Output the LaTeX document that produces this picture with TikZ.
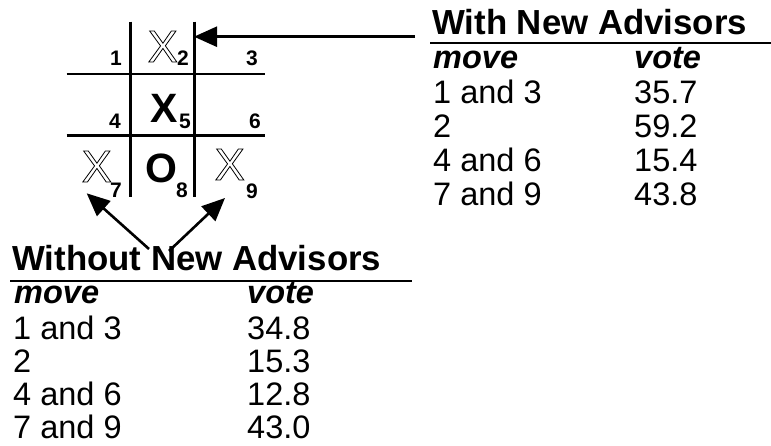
\documentclass[tikz,border=0pt]{standalone}
\usepackage{fontspec}
\setmainfont{Liberation Sans}
\usetikzlibrary{arrows.meta}
\newcommand{\hollow}[1]{\special{pdf:literal direct 1 Tr 0.8 w}#1\special{pdf:literal direct 0 Tr}}

\begin{document}
\begin{tikzpicture}[x=1pt,y=-1pt,>={Triangle[length=23pt,width=20pt]},
  num/.style={anchor=base east,inner sep=0pt,font=\fontsize{21}{21}\selectfont\bfseries},
  piece/.style={anchor=base east,inner sep=0pt,font=\fontsize{41}{41}\selectfont\bfseries},
  hollowx/.style={anchor=base east,inner sep=0pt,font=\fontsize{45}{45}\selectfont},
  head/.style={anchor=base west,inner sep=0pt,font=\fontsize{34.8}{34.8}\selectfont\bfseries},
  cell/.style={anchor=base west,inner sep=0pt,text depth=0pt,font=\fontsize{32.5}{32.5}\selectfont},
  colhead/.style={cell,font=\fontsize{32.5}{32.5}\selectfont\bfseries\itshape}]
\useasboundingbox (0,0) rectangle (771,445);

\draw[line width=2.6pt] (130.7,21.7) -- (130.7,196.7);
\draw[line width=2.6pt] (194.3,21.7) -- (194.3,196.7);
\draw[line width=2.6pt] (66.7,74) -- (265,74);
\draw[line width=2.6pt] (66.7,135.7) -- (265,135.7);

\node[name=n_1, num] at (122,65) {1};
\node[name=n_2, num] at (189,65) {2};
\node[name=n_3, num] at (258,65) {3};
\node[name=n_4, num] at (121,128) {4};
\node[name=n_5, num] at (191,128) {5};
\node[name=n_6, num] at (261,128) {6};
\node[name=n_7, num] at (122,197) {7};
\node[name=n_8, num] at (188,197) {8};
\node[name=n_9, num] at (258,198) {9};

\node[name=cell_2, hollowx] at (178,62) {\hollow{X}};
\node[name=cell_5, piece] at (178,122) {X};
\node[name=cell_7, hollowx] at (112,182) {\hollow{X}};
\node[name=cell_8, piece] at (178,182) {O};
\node[name=cell_9, hollowx] at (245,180) {\hollow{X}};

\node[name=with_head, head] at (432,34) {With New Advisors};
\draw[line width=1.6pt] (430,42.7) -- (771,42.7);
\node[name=with_move, colhead] at (433,68) {move};
\node[name=with_vote, colhead] at (634,68) {vote};
\node[name=with_m1, cell] at (433,103) {1 and 3};
\node[name=with_v1, cell] at (634,103) {35.7};
\node[name=with_m2, cell] at (433,137) {2};
\node[name=with_v2, cell] at (634,137) {59.2};
\node[name=with_m3, cell] at (433,171) {4 and 6};
\node[name=with_v3, cell] at (634,171) {15.4};
\node[name=with_m4, cell] at (433,205) {7 and 9};
\node[name=with_v4, cell] at (634,205) {43.8};

\node[name=wo_head, head] at (12,270) {Without New Advisors};
\draw[line width=1.6pt] (10,280.7) -- (412,280.7);
\node[name=wo_move, colhead] at (14,303) {move};
\node[name=wo_vote, colhead] at (247,303) {vote};
\node[name=wo_m1, cell] at (13,339) {1 and 3};
\node[name=wo_v1, cell] at (247,339) {34.8};
\node[name=wo_m2, cell] at (13,372) {2};
\node[name=wo_v2, cell] at (247,372) {15.3};
\node[name=wo_m3, cell] at (13,405) {4 and 6};
\node[name=wo_v3, cell] at (247,405) {12.8};
\node[name=wo_m4, cell] at (13,438) {7 and 9};
\node[name=wo_v4, cell] at (247,438) {43.0};

\coordinate (with_tail) at (415,36.7);
\coordinate (with_tip) at (194,36.7);
\coordinate (wo_tail_1) at (149,249);
\coordinate (wo_tip_1) at (86.7,193.3);
\coordinate (wo_tail_2) at (169,251);
\coordinate (wo_tip_2) at (225,198);

\draw[line width=2.6pt] (with_tail) edge[->] (with_tip);
\draw[line width=2.6pt] (wo_tail_1) edge[->] (wo_tip_1);
\draw[line width=2.6pt] (wo_tail_2) edge[->] (wo_tip_2);
\end{tikzpicture}
\end{document}
